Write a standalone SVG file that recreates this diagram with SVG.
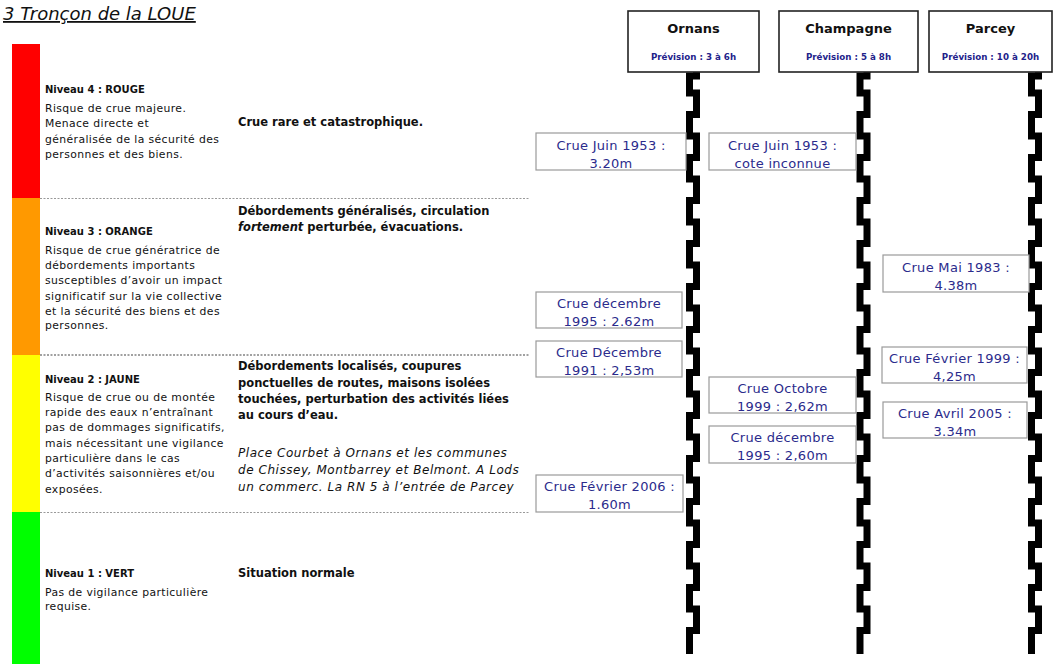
<svg xmlns="http://www.w3.org/2000/svg" xmlns:xlink="http://www.w3.org/1999/xlink" width="1056" height="664" viewBox="0 0 1056 664">
<style>
text{font-family:"DejaVu Sans","Liberation Sans",sans-serif;fill:#111}
.title{font-size:18px;font-style:italic;text-decoration:underline}
.lvl{font-size:10px;font-weight:bold}
.desc{font-size:10.8px;letter-spacing:0.4px}
.mid{font-size:11.5px;font-weight:bold}
.ital{font-size:12px;font-style:italic;letter-spacing:0.55px}
.sep{stroke:#999;stroke-width:1;stroke-dasharray:2 1.5}
.sepd{stroke:#444;stroke-width:1.2;stroke-dasharray:2 1.5}
.hbox{fill:#fff;stroke:#222;stroke-width:1.6}
.hname{font-size:13px;font-weight:bold;text-anchor:middle}
.hprev{font-size:8.7px;font-weight:bold;fill:#22228a;text-anchor:middle}
.lbox{fill:#fff;stroke:#9a9a9a;stroke-width:1.2}
.ltxt{font-size:13px;letter-spacing:0.3px;fill:#2b2b8c;text-anchor:middle}
.staff{fill:none;stroke:#000;stroke-width:7;stroke-linejoin:miter}
</style>
<defs>
<path id="zig" class="staff" d="M696.5 72 V76 H689.5 V93 H696.5 V114.5 H689.5 V136 H696.5 V157.5 H689.5 V179 H696.5 V200.5 H689.5 V222 H696.5 V243.5 H689.5 V265 H696.5 V286.5 H689.5 V308 H696.5 V329.5 H689.5 V351 H696.5 V372.5 H689.5 V394 H696.5 V415.5 H689.5 V437 H696.5 V458.5 H689.5 V480 H696.5 V501.5 H689.5 V523 H696.5 V544.5 H689.5 V566 H696.5 V587.5 H689.5 V609 H696.5 V630.5 H689.5 V654"/>
</defs>

<text class="title" x="3" y="20">3 Tronçon de la LOUE</text>

<g id="scale">
<rect x="12" y="44" width="28" height="155" fill="#ff0000"/>
<rect x="12" y="198" width="28" height="157" fill="#ff9900"/>
<rect x="12" y="355" width="28" height="157" fill="#ffff00"/>
<rect x="12" y="512" width="28" height="152" fill="#00ff00"/>
<line class="sep" x1="40" y1="198.5" x2="530" y2="198.5"/>
<line class="sepd" x1="40" y1="355" x2="530" y2="355"/>
<line class="sep" x1="40" y1="512.5" x2="530" y2="512.5"/>
</g>

<g id="niveau4">
<text class="lvl" x="45" y="93">Niveau 4 : ROUGE</text>
<text class="desc" x="45" y="112">Risque de crue majeure.</text>
<text class="desc" x="45" y="127">Menace directe et</text>
<text class="desc" x="45" y="143">généralisée de la sécurité des</text>
<text class="desc" x="45" y="158">personnes et des biens.</text>
<text class="mid" x="238" y="126">Crue rare et catastrophique.</text>
</g>

<g id="niveau3">
<text class="lvl" x="45" y="235">Niveau 3 : ORANGE</text>
<text class="desc" x="45" y="254">Risque de crue génératrice de</text>
<text class="desc" x="45" y="269">débordements importants</text>
<text class="desc" x="45" y="284">susceptibles d’avoir un impact</text>
<text class="desc" x="45" y="300">significatif sur la vie collective</text>
<text class="desc" x="45" y="315">et la sécurité des biens et des</text>
<text class="desc" x="45" y="329">personnes.</text>
<text class="mid" x="238" y="215">Débordements généralisés, circulation</text>
<text class="mid" x="238" y="231"><tspan font-style="italic">fortement</tspan> perturbée, évacuations.</text>
</g>

<g id="niveau2">
<text class="lvl" x="45" y="383">Niveau 2 : JAUNE</text>
<text class="desc" x="45" y="401">Risque de crue ou de montée</text>
<text class="desc" x="45" y="416">rapide des eaux n’entraînant</text>
<text class="desc" x="45" y="431">pas de dommages significatifs,</text>
<text class="desc" x="45" y="447">mais nécessitant une vigilance</text>
<text class="desc" x="45" y="462">particulière dans le cas</text>
<text class="desc" x="45" y="477">d’activités saisonnières et/ou</text>
<text class="desc" x="45" y="493">exposées.</text>
<text class="mid" x="238" y="370">Débordements localisés, coupures</text>
<text class="mid" x="238" y="387">ponctuelles de routes, maisons isolées</text>
<text class="mid" x="238" y="403">touchées, perturbation des activités liées</text>
<text class="mid" x="238" y="419">au cours d’eau.</text>
<text class="ital" x="238" y="457">Place Courbet à Ornans et les communes</text>
<text class="ital" x="238" y="474">de Chissey, Montbarrey et Belmont. A Lods</text>
<text class="ital" x="238" y="491">un commerc. La RN 5 à l’entrée de Parcey</text>
</g>

<g id="niveau1">
<text class="lvl" x="45" y="577">Niveau 1 : VERT</text>
<text class="desc" x="45" y="596">Pas de vigilance particulière</text>
<text class="desc" x="45" y="610">requise.</text>
<text class="mid" x="238" y="577">Situation normale</text>
</g>

<g id="connectors">
<use xlink:href="#zig"/>
<use xlink:href="#zig" transform="translate(170.5,0)"/>
<use xlink:href="#zig" transform="translate(342,0)"/>
</g>

<g id="ornans">
<rect class="hbox" x="628" y="11" width="131" height="61"/>
<text class="hname" x="693.5" y="33">Ornans</text>
<text class="hprev" x="693.5" y="60">Prévision : 3 à 6h</text>
</g>
<g id="champagne">
<rect class="hbox" x="779" y="11" width="139" height="61"/>
<text class="hname" x="848.5" y="33">Champagne</text>
<text class="hprev" x="848.5" y="60">Prévision : 5 à 8h</text>
</g>
<g id="parcey">
<rect class="hbox" x="929" y="11" width="123" height="61"/>
<text class="hname" x="990.5" y="33">Parcey</text>
<text class="hprev" x="990.5" y="60">Prévision : 10 à 20h</text>
</g>

<g id="o1953">
<rect class="lbox" x="536" y="133" width="150" height="37"/>
<text class="ltxt" x="611" y="149.5">Crue Juin 1953 :</text>
<text class="ltxt" x="611" y="167.5">3.20m</text>
</g>
<g id="o1995">
<rect class="lbox" x="536" y="292" width="146" height="36"/>
<text class="ltxt" x="609" y="308">Crue décembre</text>
<text class="ltxt" x="609" y="326">1995 : 2.62m</text>
</g>
<g id="o1991">
<rect class="lbox" x="536" y="341" width="146" height="36"/>
<text class="ltxt" x="609" y="357">Crue Décembre</text>
<text class="ltxt" x="609" y="375">1991 : 2,53m</text>
</g>
<g id="o2006">
<rect class="lbox" x="536" y="475" width="147" height="37"/>
<text class="ltxt" x="609.5" y="491">Crue Février 2006 :</text>
<text class="ltxt" x="609.5" y="509">1.60m</text>
</g>
<g id="c1953">
<rect class="lbox" x="709" y="133" width="147" height="37"/>
<text class="ltxt" x="782.5" y="149.5">Crue Juin 1953 :</text>
<text class="ltxt" x="782.5" y="167.5">cote inconnue</text>
</g>
<g id="c1999">
<rect class="lbox" x="709" y="377" width="147" height="36"/>
<text class="ltxt" x="782.5" y="393">Crue Octobre</text>
<text class="ltxt" x="782.5" y="411">1999 : 2,62m</text>
</g>
<g id="c1995">
<rect class="lbox" x="709" y="426" width="147" height="37"/>
<text class="ltxt" x="782.5" y="442">Crue décembre</text>
<text class="ltxt" x="782.5" y="460">1995 : 2,60m</text>
</g>
<g id="p1983">
<rect class="lbox" x="883" y="255" width="146" height="37"/>
<text class="ltxt" x="956" y="271.5">Crue Mai 1983 :</text>
<text class="ltxt" x="956" y="289.5">4.38m</text>
</g>
<g id="p1999">
<rect class="lbox" x="882" y="347" width="145" height="36"/>
<text class="ltxt" x="954.5" y="363">Crue Février 1999 :</text>
<text class="ltxt" x="954.5" y="381">4,25m</text>
</g>
<g id="p2005">
<rect class="lbox" x="883" y="402" width="144" height="36"/>
<text class="ltxt" x="955" y="418">Crue Avril 2005 :</text>
<text class="ltxt" x="955" y="436">3.34m</text>
</g>
</svg>
